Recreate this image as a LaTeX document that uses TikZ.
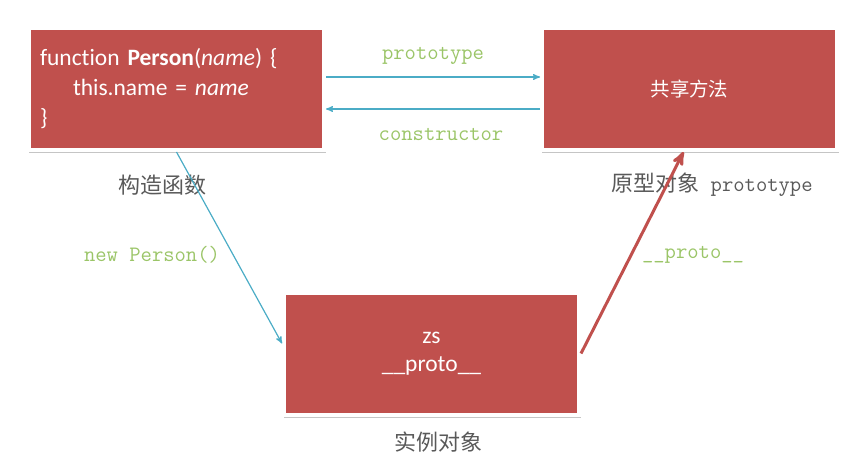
\documentclass[tikz,border=0pt]{standalone}
\usepackage{fontspec}
\setmainfont{Carlito}[Ligatures=NoCommon]
\newfontfamily\cjk{Noto Sans CJK SC}
\usetikzlibrary{arrows,shadows}
\definecolor{boxred}{HTML}{C0504D}
\definecolor{linkblue}{HTML}{4BACC6}
\definecolor{codegreen}{HTML}{9BC568}
\definecolor{capgray}{HTML}{595959}

\begin{document}
\begin{tikzpicture}[x=0.75pt,y=-0.75pt,>=stealth',
    box/.style={rectangle,fill=boxred,draw=white,line width=3pt,text=white,
                minimum width=221.25pt,minimum height=91.5pt,
                drop shadow={shadow xshift=0.8pt,shadow yshift=-2pt,
                             shadow scale=1.008,fill=black!45}},
    caption/.style={text=capgray,font=\cjk\fontsize{16.5}{19}\selectfont},
    codelabel/.style={text=codegreen,font=\ttfamily\fontsize{16.5}{19}\selectfont},
    link/.style={->,draw=linkblue,line width=0.9pt},
    protolink/.style={->,draw=boxred,line width=2.25pt}]

  \useasboundingbox (0,0) rectangle (867,460);

  \node[box,align=left,text width=204.75pt,inner xsep=8.25pt,
        font=\fontsize{17.6}{22.5}\selectfont] (ctor) at (176.5,89)
        {function \textbf{Person}(\textit{name}) \{\\
         \hspace*{24.75pt}this.name = \textit{name}\\
         \}};
  \node[box,font=\cjk\fontsize{14.6}{17}\selectfont] (proto) at (689.5,89) {共享方法};
  \node[box,align=center,font=\fontsize{17.6}{21}\selectfont] (inst) at (431.5,353.5)
        {zs\\\_\_proto\_\_};

  \node[caption] (ctorcap)  at (162,185) {构造函数};
  \node[caption] (protocap) at (712,185) {原型对象\texttt{ prototype}};
  \node[caption] (instcap)  at (438,442) {实例对象};

  \node[codelabel] (protolbl) at (433,56)  {prototype};
  \node[codelabel] (ctorlbl)  at (441,134) {constructor};
  \node[codelabel] (newlbl)   at (152,255) {new Person()};
  \node[codelabel] (dunderlbl) at (693,255) {\_\_proto\_\_};

  \draw[link] ([yshift=9pt]ctor.east) -- ([yshift=9pt]proto.west);
  \draw[link] ([yshift=-15pt]proto.west) -- ([yshift=-15pt]ctor.east);
  \draw[link] (ctor.south) -- ([yshift=7.5pt]inst.west);
  \draw[protolink] (inst.east) -- ([xshift=-4.5pt]proto.south);
\end{tikzpicture}
\end{document}
